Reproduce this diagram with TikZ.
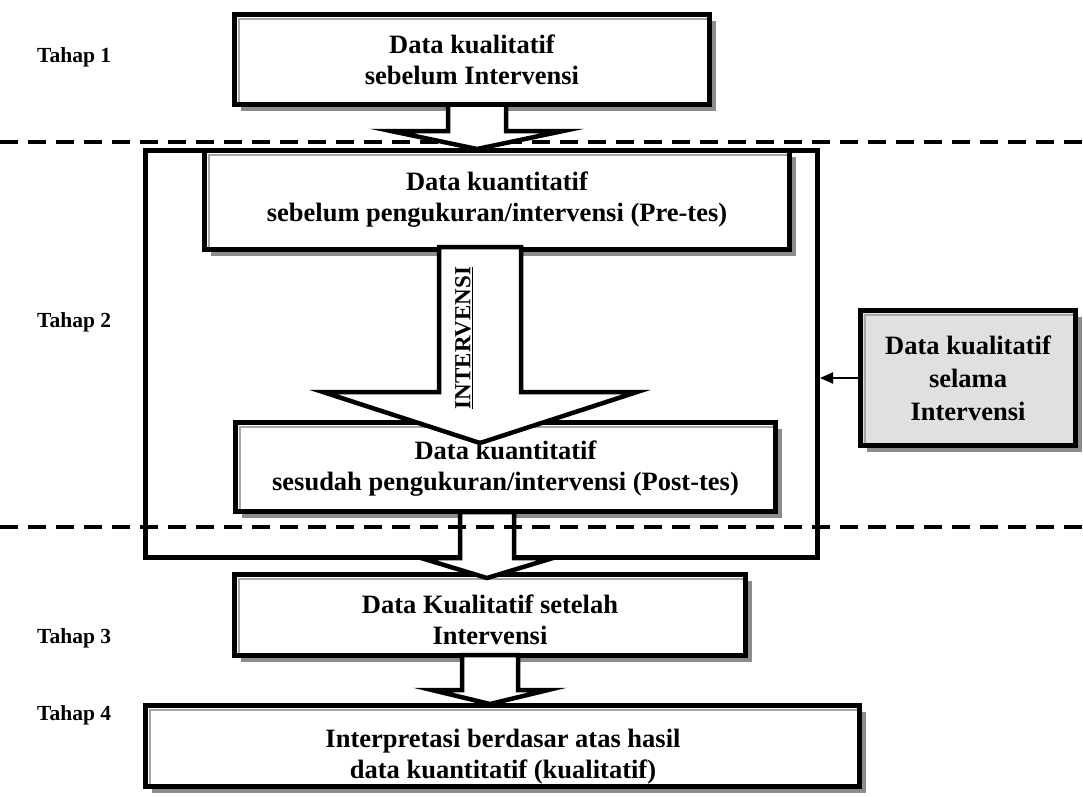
\documentclass[tikz,border=0pt]{standalone}
\usepackage{fontspec}
\setmainfont{Liberation Serif}
\usetikzlibrary{arrows.meta,shadows,calc}
\newcommand{\blockarr}[6]{% x, top, head y, tip y, half shaft, half head
  \draw[barrow] ({#1-#5},#2) -- ({#1-#5},#3) -- ({#1-#6},#3) -- (#1,#4) -- ({#1+#6},#3) -- ({#1+#5},#3) -- ({#1+#5},#2) -- cycle;}
\begin{document}
\begin{tikzpicture}[x=1pt,y=-1pt,
  txt/.style={font=\bfseries\fontsize{26.5}{31}\selectfont, align=center, inner sep=0pt},
  box/.style={draw, line width=5pt, fill=white, rectangle, inner sep=0pt, txt,
    drop shadow={shadow xshift=6pt, shadow yshift=-6pt, fill=black!45, opacity=1},
    path picture={\draw[black!35, line width=2pt]
      ([shift={(4pt,2pt)}]path picture bounding box.south west) --
      ([shift={(4pt,-4pt)}]path picture bounding box.north west) --
      ([shift={(-2pt,-4pt)}]path picture bounding box.north east);}},
  cont/.style={draw, line width=5pt, rectangle, inner sep=0pt},
  barrow/.style={draw, line width=4.5pt, fill=white, line join=miter},
  sep/.style={line width=3.5pt, dash pattern=on 18pt off 10pt},
  tahap/.style={font=\bfseries\fontsize{21.5}{25}\selectfont, anchor=west, inner sep=0pt}]
\useasboundingbox (0,0) rectangle (1083,796);
\fill[white] (0,0) rectangle (1083,796);

% container of Tahap 2
\node[cont, minimum width=672pt, minimum height=407pt] (cont) at (481.5,354) {};

% boxes
\node[box, minimum width=475pt, minimum height=90pt] (b1) at (472,59.5)
  {Data kualitatif\\sebelum Intervensi};
\node[box, minimum width=585pt, minimum height=99pt] (b2) at (497,200)
  {Data kuantitatif\\sebelum pengukuran/intervensi (Pre-tes)};
\node[box, minimum width=540pt, minimum height=89pt] (b3) at (505.5,467) {};
\node[box, minimum width=511pt, minimum height=81pt] (b4) at (490,615) {};
\node[txt] (t4) at (490,620) {Data Kualitatif setelah\\Intervensi};
\node[box, minimum width=714pt, minimum height=81pt] (b5) at (502.5,746) {};
\node[txt] (t5) at (503,757) {Interpretasi berdasar atas hasil\\data kuantitatif (kualitatif)};
\node[box, fill=black!12, minimum width=215pt, minimum height=135pt,
  font=\bfseries\fontsize{26.5}{33}\selectfont] (rb) at (968,378)
  {Data kualitatif\\selama\\Intervensi};

% separator 1
\coordinate (s1a) at (0,142);
\coordinate (s1b) at (1083,142);
\draw[sep] (s1a) -- (s1b);

% block arrows
\blockarr{477}{104.5}{131}{149}{29}{86}
\blockarr{480}{247}{392}{443}{41}{157}
\blockarr{487}{512}{558}{578}{27}{66}
\blockarr{490}{655}{690}{704}{28}{58}

\node[font=\bfseries\fontsize{23}{27}\selectfont, rotate=90, inner sep=0pt] (iv) at (464,338) {\underline{INTERVENSI}};
\node[txt] (t3) at (505.5,469) {Data kuantitatif\\sesudah pengukuran/intervensi (Post-tes)};

% separator 2
\coordinate (s2a) at (0,527);
\coordinate (s2b) at (1083,527);
\draw[sep] (s2a) -- (s2b);

% arrow from right box into container
\draw[line width=2pt, -{Triangle[length=13pt,width=11pt]}] (rb.west) -- (rb.west -| cont.east);

% stage labels
\node[tahap] (l1) at (37,57) {Tahap 1};
\node[tahap] (l2) at (37,322) {Tahap 2};
\node[tahap] (l3) at (37,638) {Tahap 3};
\node[tahap] (l4) at (37,715) {Tahap 4};
\end{tikzpicture}
\end{document}
